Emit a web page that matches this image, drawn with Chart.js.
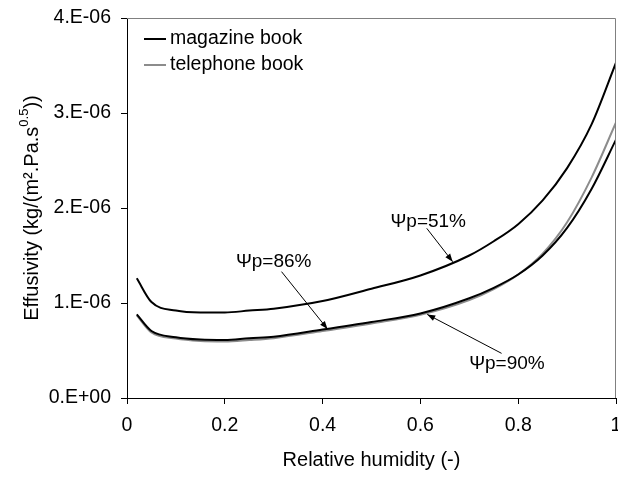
<!DOCTYPE html>
<html>
<head>
<meta charset="utf-8">
<script src="https://cdn.jsdelivr.net/npm/chart.js@4/dist/chart.umd.min.js"></script>
<style>
  html,body{margin:0;padding:0;background:#fff;}
  #wrap{width:618px;height:478px;position:relative;}
</style>
</head>
<body>
<div id="wrap"><canvas id="chart" width="618" height="478"></canvas></div>
<script>
// relative humidity (-)
const rh = [0.02, 0.05, 0.1, 0.15, 0.2, 0.25, 0.3, 0.4, 0.5, 0.6, 0.7, 0.75, 0.8, 0.85, 0.9, 0.95, 1.0];
// effusivity, kg/(m2.Pa.s^0.5)
const magazine51 = [1.26e-6, 1.01e-6, 0.92e-6, 0.90e-6, 0.90e-6, 0.92e-6, 0.94e-6, 1.02e-6, 1.15e-6, 1.29e-6, 1.50e-6, 1.65e-6, 1.83e-6, 2.08e-6, 2.42e-6, 2.88e-6, 3.53e-6];
const magazine86 = [0.88e-6, 0.705e-6, 0.64e-6, 0.615e-6, 0.61e-6, 0.63e-6, 0.645e-6, 0.72e-6, 0.80e-6, 0.89e-6, 1.05e-6, 1.16e-6, 1.30e-6, 1.50e-6, 1.79e-6, 2.20e-6, 2.72e-6];
const telephone90 = [0.87e-6, 0.69e-6, 0.625e-6, 0.60e-6, 0.595e-6, 0.61e-6, 0.63e-6, 0.705e-6, 0.785e-6, 0.875e-6, 1.03e-6, 1.145e-6, 1.30e-6, 1.52e-6, 1.85e-6, 2.32e-6, 2.90e-6];

const xTicks = [0, 0.2, 0.4, 0.6, 0.8, 1];
const xTickLabels = ['0', '0.2', '0.4', '0.6', '0.8', '1'];
const yTicks = [0, 1e-6, 2e-6, 3e-6, 4e-6];
const yTickLabels = ['0.E+00', '1.E-06', '2.E-06', '3.E-06', '4.E-06'];

const legendNames = ['magazine book', 'telephone book'];
// label text, text anchor [x,y], arrow start [x,y], arrow tip [x,y] (data units)
const notes = [
  ['\u03A8p=51%', [0.616, 1.86e-6], [0.613, 1.786e-6], [0.666, 1.435e-6]],
  ['\u03A8p=86%', [0.300, 1.43e-6], [0.316, 1.33e-6], [0.410, 0.726e-6]],
  ['\u03A8p=90%', [0.777, 0.36e-6], [0.766, 0.47e-6], [0.614, 0.88e-6]]
];

const FONT = '"Liberation Sans", Arial, sans-serif';
const pts = arr => rh.map((x, i) => ({x: x, y: arr[i]}));

// frame, legend, y title and the arrow labels
const decor = {
  id: 'decor',
  afterDraw(chart){
    const ctx = chart.ctx;
    const a = chart.chartArea;
    const xs = chart.scales.x, ys = chart.scales.y;
    ctx.save();

    // grey top/right frame
    ctx.strokeStyle = '#808080';
    ctx.lineWidth = 1;
    ctx.beginPath();
    ctx.moveTo(a.left, a.top + 0.5);
    ctx.lineTo(a.right - 0.5, a.top + 0.5);
    ctx.lineTo(a.right - 0.5, a.bottom);
    ctx.stroke();

    // legend
    const legCols = ['#000000', '#8c8c8c'];
    ctx.font = '19.5px ' + FONT;
    ctx.textBaseline = 'middle';
    ctx.textAlign = 'left';
    legendNames.forEach((name, i) => {
      const y = 39 + i * 26;
      ctx.strokeStyle = legCols[i];
      ctx.lineWidth = 2;
      ctx.beginPath();
      ctx.moveTo(144, y);
      ctx.lineTo(166, y);
      ctx.stroke();
      ctx.fillStyle = '#000';
      ctx.fillText(name, 170, y);
    });

    // notes with arrows
    notes.forEach(n => {
      const tx = xs.getPixelForValue(n[1][0]), ty = ys.getPixelForValue(n[1][1]);
      const sx = xs.getPixelForValue(n[2][0]), sy = ys.getPixelForValue(n[2][1]);
      const ex = xs.getPixelForValue(n[3][0]), ey = ys.getPixelForValue(n[3][1]);
      ctx.fillStyle = '#000';
      ctx.textAlign = 'center';
      ctx.font = '19px ' + FONT;
      ctx.fillText(n[0], tx, ty);
      ctx.strokeStyle = '#000';
      ctx.lineWidth = 1;
      ctx.beginPath();
      ctx.moveTo(sx, sy);
      ctx.lineTo(ex, ey);
      ctx.stroke();
      const ang = Math.atan2(ey - sy, ex - sx);
      const L = 8, W = 3;
      ctx.beginPath();
      ctx.moveTo(ex, ey);
      ctx.lineTo(ex - L * Math.cos(ang) + W * Math.sin(ang), ey - L * Math.sin(ang) - W * Math.cos(ang));
      ctx.lineTo(ex - L * Math.cos(ang) - W * Math.sin(ang), ey - L * Math.sin(ang) + W * Math.cos(ang));
      ctx.closePath();
      ctx.fill();
    });

    // y axis title with superscript
    const main = 'Effusivity (kg/(m\u00B2.Pa.s', sup = '0.5', tail = '))';
    ctx.font = '20px ' + FONT;
    const w1 = ctx.measureText(main).width, w3 = ctx.measureText(tail).width;
    ctx.font = '13px ' + FONT;
    const w2 = ctx.measureText(sup).width;
    const total = w1 + w2 + w3;
    ctx.translate(30, (a.top + a.bottom) / 2);
    ctx.rotate(-Math.PI / 2);
    ctx.textAlign = 'left';
    ctx.textBaseline = 'alphabetic';
    let x0 = -total / 2;
    ctx.font = '20px ' + FONT;
    ctx.fillText(main, x0, 8);
    ctx.font = '13px ' + FONT;
    ctx.fillText(sup, x0 + w1, -2);
    ctx.font = '20px ' + FONT;
    ctx.fillText(tail, x0 + w1 + w2, 8);

    ctx.restore();
  }
};

const ds = (label, arr, color) => ({
  label: label,
  data: pts(arr),
  borderColor: color,
  borderWidth: 2,
  pointRadius: 0,
  fill: false,
  cubicInterpolationMode: 'monotone'
});

new Chart(document.getElementById('chart'), {
  type: 'line',
  data: {
    datasets: [
      ds(legendNames[0], magazine51, '#000000'),
      ds(legendNames[0], magazine86, '#000000'),
      ds(legendNames[1], telephone90, '#8c8c8c')
    ]
  },
  options: {
    responsive: false,
    animation: false,
    layout: { padding: { left: 0, right: 2, top: 18, bottom: 0 } },
    plugins: { legend: { display: false }, tooltip: { enabled: false } },
    scales: {
      x: {
        type: 'linear',
        min: 0, max: 1,
        afterBuildTicks: s => { s.ticks = xTicks.map(v => ({value: v})); },
        afterFit: s => { s.height = 80; s.paddingLeft = 0; s.paddingRight = 0; },
        ticks: {
          color: '#000',
          font: { family: FONT, size: 19.5 },
          padding: 10,
          maxRotation: 0,
          callback: (v) => xTickLabels[xTicks.indexOf(v)]
        },
        grid: { drawOnChartArea: false, drawTicks: true, tickLength: 6, color: '#000' },
        border: { color: '#000', width: 1 },
        title: {
          display: true,
          text: 'Relative humidity (-)',
          color: '#000',
          font: { family: FONT, size: 20 },
          padding: { top: 0, bottom: 6 }
        }
      },
      y: {
        min: 0, max: 4e-6,
        afterBuildTicks: s => { s.ticks = yTicks.map(v => ({value: v})); },
        afterFit: s => { s.width = 127; s.paddingTop = 0; s.paddingBottom = 0; },
        ticks: {
          color: '#000',
          font: { family: FONT, size: 19.5 },
          padding: 10,
          callback: (v) => yTickLabels[yTicks.indexOf(v)]
        },
        grid: { drawOnChartArea: false, drawTicks: true, tickLength: 6, color: '#000' },
        border: { color: '#000', width: 1 }
      }
    }
  },
  plugins: [decor]
});
</script>
</body>
</html>
